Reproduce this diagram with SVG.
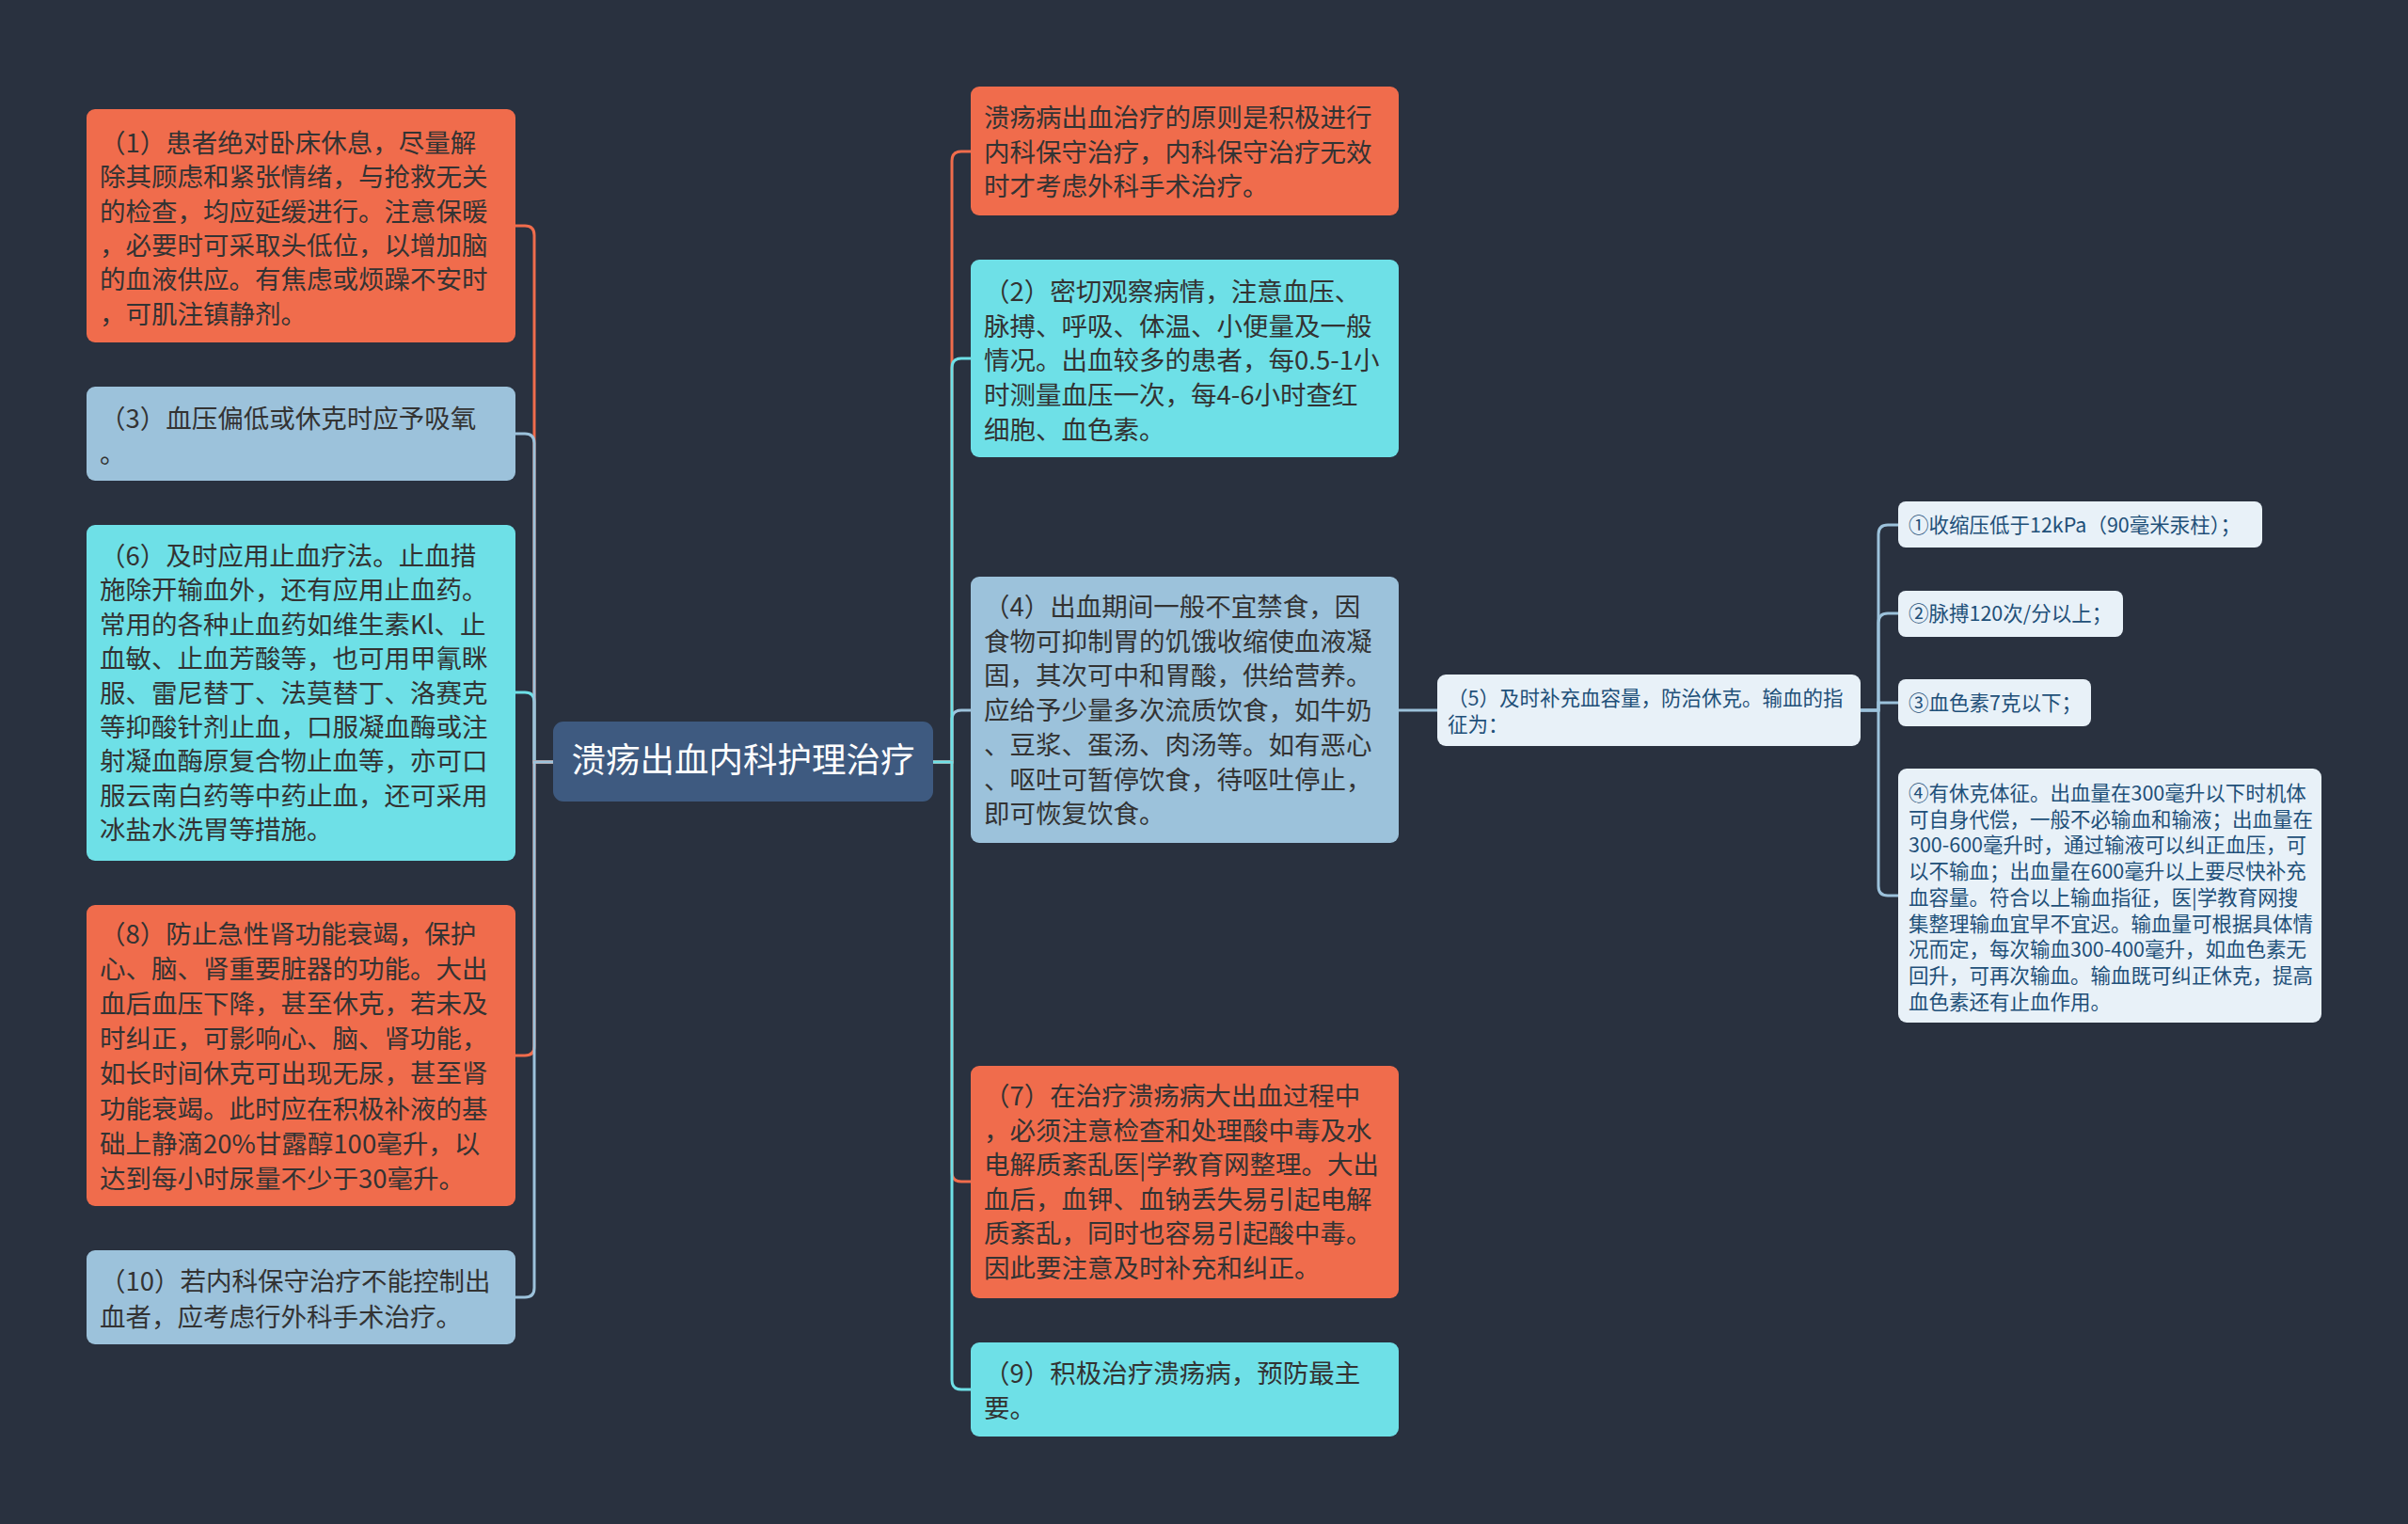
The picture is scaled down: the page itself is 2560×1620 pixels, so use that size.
<svg xmlns="http://www.w3.org/2000/svg" width="2560" height="1620" viewBox="0 0 2560 1620">
<style>
text{font-family:"Noto Sans CJK SC","Noto Sans",sans-serif;}
.t2{font-size:27.5px;fill:#333333;}
.t3{font-size:21.5px;fill:#1f5079;}
.root{font-size:36.5px;fill:#ffffff;}
.or{fill:#f06c4c;}
.cy{fill:#6ee0e7;}
.lb{fill:#9cc2db;}
.l3{fill:#e8f1f8;}
.c{fill:none;stroke-width:3;}
.co{stroke:#f06c4c;}
.cc{stroke:#6ee0e7;}
.cb{stroke:#9cc2db;}
</style>
<rect x="0" y="0" width="2560" height="1620" fill="#29313f"/>
<g id="connectors">
<path class="c co" d="M588,810 H568 V250 Q568,240 558,240 H548"/>
<path class="c cc" d="M588,810 H568 V746 Q568,736 558,736 H548"/>
<path class="c cb" d="M588,810 H568 V471 Q568,461 558,461 H548"/>
<path class="c co" d="M588,810 H568 V1112 Q568,1122 558,1122 H548"/>
<path class="c cb" d="M588,810 H568 V1369 Q568,1379 558,1379 H548"/>
<path class="c co" d="M992,810 H1012 V171 Q1012,161 1022,161 H1032"/>
<path class="c cb" d="M992,810 H1012 V765 Q1012,755 1022,755 H1032"/>
<path class="c cc" d="M992,810 H1012 V391 Q1012,381 1022,381 H1032"/>
<path class="c co" d="M992,810 H1012 V1246 Q1012,1256 1022,1256 H1032"/>
<path class="c cc" d="M992,810 H1012 V1467 Q1012,1477 1022,1477 H1032"/>
<path class="c cb" d="M1487,755 H1528"/>
<path class="c cb" d="M1978,755 H1997 V568 Q1997,558 2007,558 H2018"/>
<path class="c cb" d="M1978,755 H1997 V662 Q1997,652 2007,652 H2018"/>
<path class="c cb" d="M1997,755 V747 H2018"/>
<path class="c cb" d="M1978,755 H1997 V942 Q1997,952 2007,952 H2018"/>
</g>
<g id="root">
<rect x="588" y="767" width="404" height="85" rx="11" fill="#3e5a80"/>
<text class="root" x="790" y="821" text-anchor="middle">溃疡出血内科护理治疗</text>
</g>
<g id="n1">
<rect class="or" x="92" y="116" width="456" height="248" rx="9"/>
<text class="t2" x="106" y="162"><tspan x="106">（1）患者绝对卧床休息，尽量解</tspan><tspan x="106" dy="36.3">除其顾虑和紧张情绪，与抢救无关</tspan><tspan x="106" dy="36.3">的检查，均应延缓进行。注意保暖</tspan><tspan x="106" dy="36.3">，必要时可采取头低位，以增加脑</tspan><tspan x="106" dy="36.3">的血液供应。有焦虑或烦躁不安时</tspan><tspan x="106" dy="36.3">，可肌注镇静剂。</tspan></text>
</g>
<g id="n3">
<rect class="lb" x="92" y="411" width="456" height="100" rx="9"/>
<text class="t2" x="106" y="455"><tspan x="106">（3）血压偏低或休克时应予吸氧</tspan><tspan x="106" dy="36.5">。</tspan></text>
</g>
<g id="n6">
<rect class="cy" x="92" y="558" width="456" height="357" rx="9"/>
<text class="t2" x="106" y="601"><tspan x="106">（6）及时应用止血疗法。止血措</tspan><tspan x="106" dy="36.4">施除开输血外，还有应用止血药。</tspan><tspan x="106" dy="36.4">常用的各种止血药如维生素Kl、止</tspan><tspan x="106" dy="36.4">血敏、止血芳酸等，也可用甲氰眯</tspan><tspan x="106" dy="36.4">服、雷尼替丁、法莫替丁、洛赛克</tspan><tspan x="106" dy="36.4">等抑酸针剂止血，口服凝血酶或注</tspan><tspan x="106" dy="36.4">射凝血酶原复合物止血等，亦可口</tspan><tspan x="106" dy="36.4">服云南白药等中药止血，还可采用</tspan><tspan x="106" dy="36.4">冰盐水洗胃等措施。</tspan></text>
</g>
<g id="n8">
<rect class="or" x="92" y="962" width="456" height="320" rx="9"/>
<text class="t2" x="106" y="1003"><tspan x="106">（8）防止急性肾功能衰竭，保护</tspan><tspan x="106" dy="37.1">心、脑、肾重要脏器的功能。大出</tspan><tspan x="106" dy="37.1">血后血压下降，甚至休克，若未及</tspan><tspan x="106" dy="37.1">时纠正，可影响心、脑、肾功能，</tspan><tspan x="106" dy="37.1">如长时间休克可出现无尿，甚至肾</tspan><tspan x="106" dy="37.1">功能衰竭。此时应在积极补液的基</tspan><tspan x="106" dy="37.1">础上静滴20%甘露醇100毫升，以</tspan><tspan x="106" dy="37.1">达到每小时尿量不少于30毫升。</tspan></text>
</g>
<g id="n10">
<rect class="lb" x="92" y="1329" width="456" height="100" rx="9"/>
<text class="t2" x="106" y="1372"><tspan x="106">（10）若内科保守治疗不能控制出</tspan><tspan x="106" dy="37.5">血者，应考虑行外科手术治疗。</tspan></text>
</g>
<g id="n0">
<rect class="or" x="1032" y="92" width="455" height="137" rx="9"/>
<text class="t2" x="1046" y="135"><tspan x="1046">溃疡病出血治疗的原则是积极进行</tspan><tspan x="1046" dy="36.5">内科保守治疗，内科保守治疗无效</tspan><tspan x="1046" dy="36.5">时才考虑外科手术治疗。</tspan></text>
</g>
<g id="n2">
<rect class="cy" x="1032" y="276" width="455" height="210" rx="9"/>
<text class="t2" x="1046" y="320"><tspan x="1046">（2）密切观察病情，注意血压、</tspan><tspan x="1046" dy="36.7">脉搏、呼吸、体温、小便量及一般</tspan><tspan x="1046" dy="36.7">情况。出血较多的患者，每0.5-1小</tspan><tspan x="1046" dy="36.7">时测量血压一次，每4-6小时查红</tspan><tspan x="1046" dy="36.7">细胞、血色素。</tspan></text>
</g>
<g id="n4">
<rect class="lb" x="1032" y="613" width="455" height="283" rx="9"/>
<text class="t2" x="1046" y="655"><tspan x="1046">（4）出血期间一般不宜禁食，因</tspan><tspan x="1046" dy="36.7">食物可抑制胃的饥饿收缩使血液凝</tspan><tspan x="1046" dy="36.7">固，其次可中和胃酸，供给营养。</tspan><tspan x="1046" dy="36.7">应给予少量多次流质饮食，如牛奶</tspan><tspan x="1046" dy="36.7">、豆浆、蛋汤、肉汤等。如有恶心</tspan><tspan x="1046" dy="36.7">、呕吐可暂停饮食，待呕吐停止，</tspan><tspan x="1046" dy="36.7">即可恢复饮食。</tspan></text>
</g>
<g id="n7">
<rect class="or" x="1032" y="1133" width="455" height="247" rx="9"/>
<text class="t2" x="1046" y="1175"><tspan x="1046">（7）在治疗溃疡病大出血过程中</tspan><tspan x="1046" dy="36.6">，必须注意检查和处理酸中毒及水</tspan><tspan x="1046" dy="36.6">电解质紊乱医|学教育网整理。大出</tspan><tspan x="1046" dy="36.6">血后，血钾、血钠丢失易引起电解</tspan><tspan x="1046" dy="36.6">质紊乱，同时也容易引起酸中毒。</tspan><tspan x="1046" dy="36.6">因此要注意及时补充和纠正。</tspan></text>
</g>
<g id="n9">
<rect class="cy" x="1032" y="1427" width="455" height="100" rx="9"/>
<text class="t2" x="1046" y="1470"><tspan x="1046">（9）积极治疗溃疡病，预防最主</tspan><tspan x="1046" dy="37">要。</tspan></text>
</g>
<g id="n5">
<rect class="l3" x="1528" y="717" width="450" height="76" rx="9"/>
<text class="t3" x="1539" y="750"><tspan x="1539">（5）及时补充血容量，防治休克。输血的指</tspan><tspan x="1539" dy="28">征为：</tspan></text>
</g>
<g id="c1">
<rect class="l3" x="2018" y="533" width="387" height="49" rx="8"/>
<text class="t3" x="2029" y="566">①收缩压低于12kPa（90毫米汞柱）；</text>
</g>
<g id="c2">
<rect class="l3" x="2018" y="628" width="239" height="49" rx="8"/>
<text class="t3" x="2029" y="660">②脉搏120次/分以上；</text>
</g>
<g id="c3">
<rect class="l3" x="2018" y="722" width="205" height="50" rx="8"/>
<text class="t3" x="2029" y="755">③血色素7克以下；</text>
</g>
<g id="c4">
<rect class="l3" x="2018" y="817" width="450" height="270" rx="9"/>
<text class="t3" x="2029" y="851"><tspan x="2029">④有休克体征。出血量在300毫升以下时机体</tspan><tspan x="2029" dy="27.7">可自身代偿，一般不必输血和输液；出血量在</tspan><tspan x="2029" dy="27.7">300-600毫升时，通过输液可以纠正血压，可</tspan><tspan x="2029" dy="27.7">以不输血；出血量在600毫升以上要尽快补充</tspan><tspan x="2029" dy="27.7">血容量。符合以上输血指征，医|学教育网搜</tspan><tspan x="2029" dy="27.7">集整理输血宜早不宜迟。输血量可根据具体情</tspan><tspan x="2029" dy="27.7">况而定，每次输血300-400毫升，如血色素无</tspan><tspan x="2029" dy="27.7">回升，可再次输血。输血既可纠正休克，提高</tspan><tspan x="2029" dy="27.7">血色素还有止血作用。</tspan></text>
</g>
</svg>
